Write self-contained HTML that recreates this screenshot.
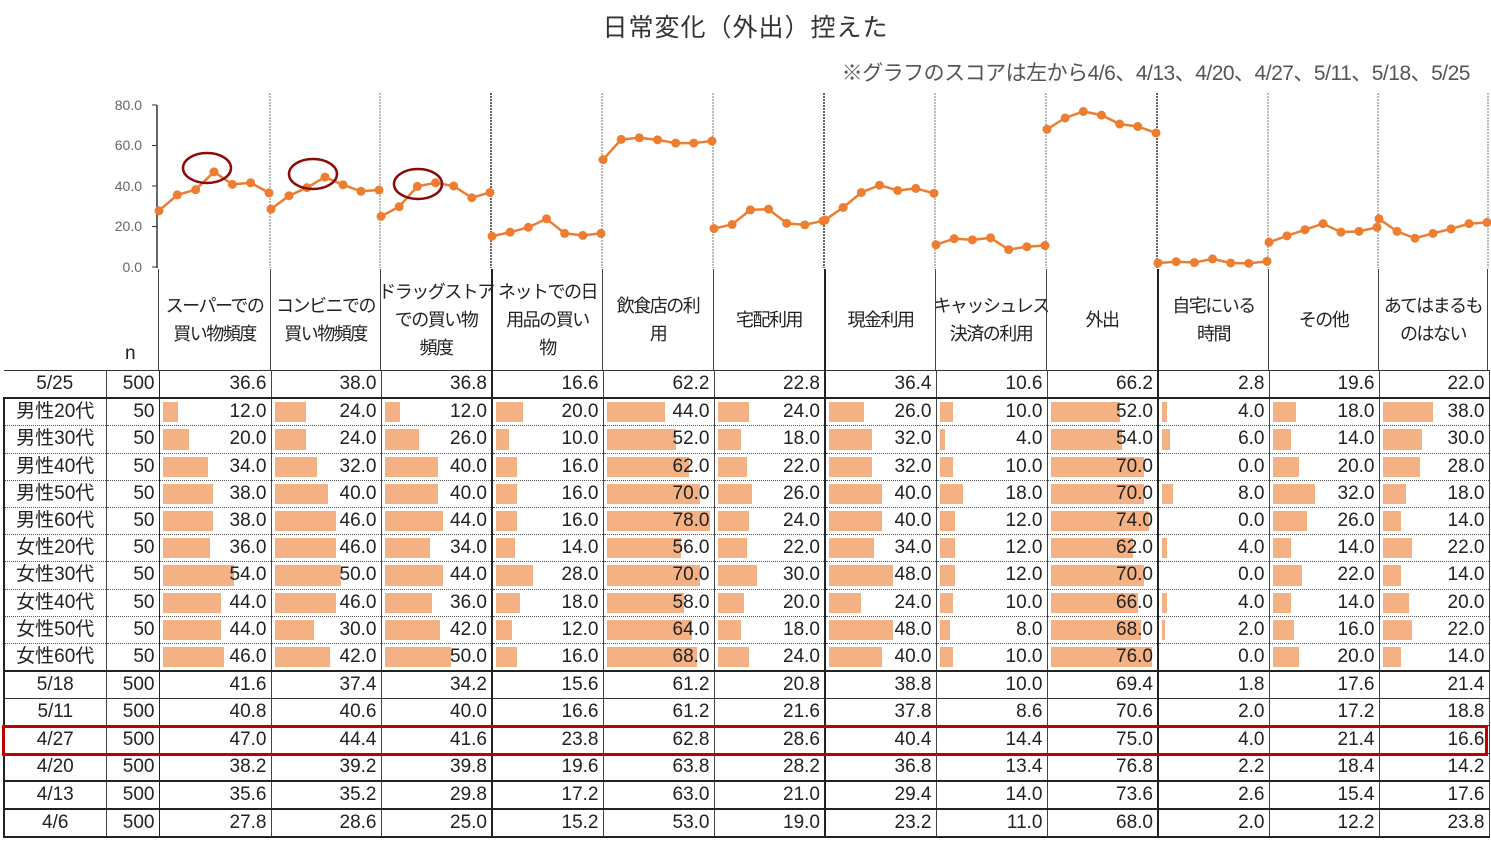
<!DOCTYPE html>
<html><head><meta charset="utf-8"><style>
body{margin:0;width:1491px;height:841px;background:#fff;position:relative;overflow:hidden;font-family:"Liberation Sans","Noto Sans CJK JP",sans-serif;color:#222}
.t{position:absolute;white-space:nowrap}
table{position:absolute;left:3px;border-collapse:collapse;table-layout:fixed;font-size:19px}
td{padding:0 4px 0 0;text-align:right;border-left:1px solid #444;border-right:1px solid #444;height:26.2px;line-height:26px;position:relative;overflow:hidden}
td:first-child{text-align:center;padding:0;border-left:2px solid #222}
td:nth-child(2){border-right:1.5px solid #222}
td:nth-child(5),td:nth-child(8),td:nth-child(11){border-right:2px solid #222}
td span{position:relative;z-index:2}
tr.d td{border-top:1px dotted #555}
tr.s td{border-top:1px solid #333}
tr.b td{border-top:2px solid #222}
.bar{position:absolute;left:3px;top:3px;bottom:3px;background:#f4b183;z-index:1}
#hdr{position:absolute;left:158px;top:268px;height:101px;border-top:1.5px solid #222}
.h{position:absolute;top:0;height:101px;display:flex;align-items:center;justify-content:center;text-align:center;font-size:18px;line-height:28px;border-left:1px solid #444;box-sizing:border-box;white-space:nowrap;letter-spacing:-1.5px}
</style></head><body>
<div class="t" style="left:0;width:1491px;text-align:center;top:8px;font-size:25px;color:#333;letter-spacing:1px">日常変化（外出）控えた</div>
<div class="t" style="right:21px;top:57px;font-size:21px;color:#555;letter-spacing:-0.5px">※グラフのスコアは左から4/6、4/13、4/20、4/27、5/11、5/18、5/25</div>
<svg id="ch" width="1491" height="280" style="position:absolute;left:0;top:0">
<g font-size="14" fill="#666" text-anchor="end" font-family="Liberation Sans,sans-serif">
<text x="142" y="110">80.0</text><text x="142" y="150">60.0</text><text x="142" y="191">40.0</text><text x="142" y="231">20.0</text><text x="142" y="272">0.0</text></g>
</svg>
<div class="t" style="left:125px;top:343px;font-size:19px">n</div>
<div id="hdr">
<div class="h" style="left:0;width:112px">スーパーでの<br>買い物頻度</div>
<div class="h" style="left:112px;width:110px">コンビニでの<br>買い物頻度</div>
<div class="h" style="left:222px;width:111px">ドラッグストア<br>での買い物<br>頻度</div>
<div class="h" style="left:333px;width:111px;border-left:2px solid #222">ネットでの日<br>用品の買い<br>物</div>
<div class="h" style="left:444px;width:111px">飲食店の利<br>用</div>
<div class="h" style="left:555px;width:111px">宅配利用</div>
<div class="h" style="left:666px;width:111px;border-left:2px solid #222">現金利用</div>
<div class="h" style="left:777px;width:111px">キャッシュレス<br>決済の利用</div>
<div class="h" style="left:888px;width:111px">外出</div>
<div class="h" style="left:999px;width:111px;border-left:2px solid #222">自宅にいる<br>時間</div>
<div class="h" style="left:1110px;width:110px">その他</div>
<div class="h" style="left:1220px;width:110px;border-right:1px solid #444">あてはまるも<br>のはない</div>
</div>
<table id="tb" style="top:370px;width:1485px">
<colgroup><col style="width:102px"><col style="width:53px"><col style="width:112px"><col style="width:110px"><col style="width:111px"><col style="width:111px"><col style="width:111px"><col style="width:111px"><col style="width:111px"><col style="width:111px"><col style="width:111px"><col style="width:111px"><col style="width:110px"><col style="width:110px"></colgroup>
<tr class="s"><td style="border-left:none">5/25</td><td>500</td><td>36.6</td><td>38.0</td><td>36.8</td><td>16.6</td><td>62.2</td><td>22.8</td><td>36.4</td><td>10.6</td><td>66.2</td><td>2.8</td><td>19.6</td><td>22.0</td></tr>
<tr class="b g"><td>男性20代</td><td>50</td><td>12.0</td><td>24.0</td><td>12.0</td><td>20.0</td><td>44.0</td><td>24.0</td><td>26.0</td><td>10.0</td><td>52.0</td><td>4.0</td><td>18.0</td><td>38.0</td></tr>
<tr class="d g"><td>男性30代</td><td>50</td><td>20.0</td><td>24.0</td><td>26.0</td><td>10.0</td><td>52.0</td><td>18.0</td><td>32.0</td><td>4.0</td><td>54.0</td><td>6.0</td><td>14.0</td><td>30.0</td></tr>
<tr class="d g"><td>男性40代</td><td>50</td><td>34.0</td><td>32.0</td><td>40.0</td><td>16.0</td><td>62.0</td><td>22.0</td><td>32.0</td><td>10.0</td><td>70.0</td><td>0.0</td><td>20.0</td><td>28.0</td></tr>
<tr class="d g"><td>男性50代</td><td>50</td><td>38.0</td><td>40.0</td><td>40.0</td><td>16.0</td><td>70.0</td><td>26.0</td><td>40.0</td><td>18.0</td><td>70.0</td><td>8.0</td><td>32.0</td><td>18.0</td></tr>
<tr class="d g"><td>男性60代</td><td>50</td><td>38.0</td><td>46.0</td><td>44.0</td><td>16.0</td><td>78.0</td><td>24.0</td><td>40.0</td><td>12.0</td><td>74.0</td><td>0.0</td><td>26.0</td><td>14.0</td></tr>
<tr class="d g"><td>女性20代</td><td>50</td><td>36.0</td><td>46.0</td><td>34.0</td><td>14.0</td><td>56.0</td><td>22.0</td><td>34.0</td><td>12.0</td><td>62.0</td><td>4.0</td><td>14.0</td><td>22.0</td></tr>
<tr class="d g"><td>女性30代</td><td>50</td><td>54.0</td><td>50.0</td><td>44.0</td><td>28.0</td><td>70.0</td><td>30.0</td><td>48.0</td><td>12.0</td><td>70.0</td><td>0.0</td><td>22.0</td><td>14.0</td></tr>
<tr class="d g"><td>女性40代</td><td>50</td><td>44.0</td><td>46.0</td><td>36.0</td><td>18.0</td><td>58.0</td><td>20.0</td><td>24.0</td><td>10.0</td><td>66.0</td><td>4.0</td><td>14.0</td><td>20.0</td></tr>
<tr class="d g"><td>女性50代</td><td>50</td><td>44.0</td><td>30.0</td><td>42.0</td><td>12.0</td><td>64.0</td><td>18.0</td><td>48.0</td><td>8.0</td><td>68.0</td><td>2.0</td><td>16.0</td><td>22.0</td></tr>
<tr class="d g"><td>女性60代</td><td>50</td><td>46.0</td><td>42.0</td><td>50.0</td><td>16.0</td><td>68.0</td><td>24.0</td><td>40.0</td><td>10.0</td><td>76.0</td><td>0.0</td><td>20.0</td><td>14.0</td></tr>
<tr class="b"><td>5/18</td><td>500</td><td>41.6</td><td>37.4</td><td>34.2</td><td>15.6</td><td>61.2</td><td>20.8</td><td>38.8</td><td>10.0</td><td>69.4</td><td>1.8</td><td>17.6</td><td>21.4</td></tr>
<tr class="s"><td>5/11</td><td>500</td><td>40.8</td><td>40.6</td><td>40.0</td><td>16.6</td><td>61.2</td><td>21.6</td><td>37.8</td><td>8.6</td><td>70.6</td><td>2.0</td><td>17.2</td><td>18.8</td></tr>
<tr class="s"><td>4/27</td><td>500</td><td>47.0</td><td>44.4</td><td>41.6</td><td>23.8</td><td>62.8</td><td>28.6</td><td>40.4</td><td>14.4</td><td>75.0</td><td>4.0</td><td>21.4</td><td>16.6</td></tr>
<tr class="s"><td>4/20</td><td>500</td><td>38.2</td><td>39.2</td><td>39.8</td><td>19.6</td><td>63.8</td><td>28.2</td><td>36.8</td><td>13.4</td><td>76.8</td><td>2.2</td><td>18.4</td><td>14.2</td></tr>
<tr class="b"><td>4/13</td><td>500</td><td>35.6</td><td>35.2</td><td>29.8</td><td>17.2</td><td>63.0</td><td>21.0</td><td>29.4</td><td>14.0</td><td>73.6</td><td>2.6</td><td>15.4</td><td>17.6</td></tr>
<tr class="b" style="border-bottom:2px solid #222"><td>4/6</td><td>500</td><td>27.8</td><td>28.6</td><td>25.0</td><td>15.2</td><td>53.0</td><td>19.0</td><td>23.2</td><td>11.0</td><td>68.0</td><td>2.0</td><td>12.2</td><td>23.8</td></tr>
</table>
<div style="position:absolute;left:2px;top:725px;width:1480px;height:25px;border:3px solid #c00000;z-index:5"></div>
<script>
var rows=document.querySelectorAll('#tb tr');
rows.forEach(function(r){var c=r.children;for(var i=0;i<c.length;i++){var t=c[i].textContent;c[i].innerHTML='<span>'+t+'</span>';
 if(r.classList.contains('g')&&i>=2){var b=document.createElement('div');b.className='bar';b.style.width=(parseFloat(t)*1.33)+'px';c[i].appendChild(b);}}});
var order=[16,15,14,13,12,11,0];
var B=[158,270,380,491,602,713,824,935,1046,1157,1268,1378,1488];
var svg=document.getElementById('ch'),ns='http://www.w3.org/2000/svg';
function el(n,a){var e=document.createElementNS(ns,n);for(var k in a)e.setAttribute(k,a[k]);svg.appendChild(e);return e;}
for(var j=1;j<B.length;j++){var th=(j==3||j==6||j==9);el('line',{x1:B[j],x2:B[j],y1:93,y2:268,stroke:th?'#333':'#777','stroke-width':th?1.5:1,'stroke-dasharray':'2,1'});}
el('line',{x1:157,x2:157,y1:105,y2:268,stroke:'#333','stroke-width':1.5});
[105,145.5,186,226.5,267].forEach(function(y){el('line',{x1:152,x2:157,y1:y,y2:y,stroke:'#333'});});
for(var c=0;c<12;c++){var pts=[];var x0=B[c]+1,x1=B[c+1]-1;
 order.forEach(function(ri,k){var v=parseFloat(rows[ri].children[c+2].textContent);pts.push([x0+(x1-x0)*k/6,267-v*2.025]);});
 el('polyline',{points:pts.map(function(p){return p.join(',')}).join(' '),fill:'none',stroke:'#ed7d31','stroke-width':2.5});
 pts.forEach(function(p){el('circle',{cx:p[0],cy:p[1],r:4.5,fill:'#ed7d31'});});}
[[207,168],[313,174],[418,184]].forEach(function(p){el('ellipse',{cx:p[0],cy:p[1],rx:24,ry:15,fill:'none',stroke:'#8b0a0a','stroke-width':2.5});});
</script>
</body></html>
